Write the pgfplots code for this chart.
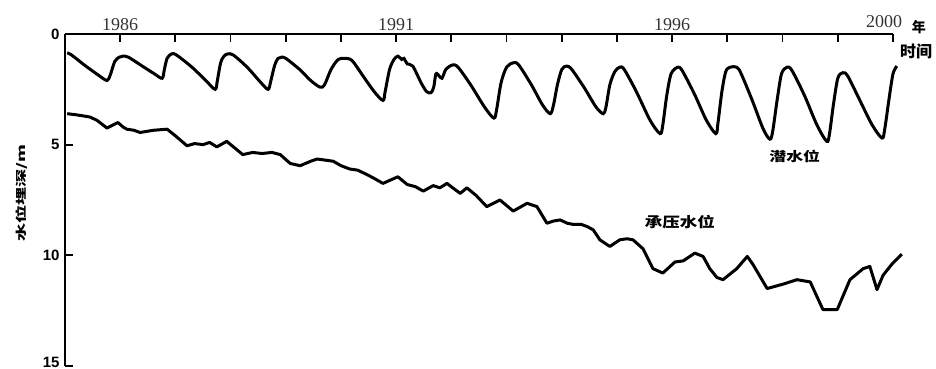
\documentclass[border=0pt]{standalone}
\usepackage{pgfplots}
\pgfplotsset{compat=1.18}
\usepackage{graphicx}
\usepackage{fontspec}
\setmainfont{Liberation Serif}
\newfontfamily\sansf{Liberation Sans}
\newfontfamily\cjk{Noto Sans CJK SC}
\begin{document}
\begin{tikzpicture}
\begin{axis}[
  width=828pt, height=332pt, scale only axis,
  xmin=1985, xmax=2000, ymin=0, ymax=15, y dir=reverse,
  axis x line*=top, axis y line*=left,
  axis line style={line width=2.2pt, black},
  clip=false,
  tick align=inside,
  major tick length=8pt,
  tick style={line width=1.8pt, black},
  xtick={1986,1987,...,2000},
  xticklabels={1986,,,,,1991,,,,,1996,,,,},
  xticklabel style={font=\fontsize{18}{20}\selectfont, text=black!80},
  ytick={0,5,10,15},
  yticklabels={0,5,10,\raisebox{7pt}{15}},
  yticklabel style={font=\sansf\bfseries\fontsize{15}{17}\selectfont, xshift=-2pt},
  /pgf/number format/assume math mode=true,
]
\addplot[smooth, tension=0.5, line width=3pt, black] coordinates {
(1985.04,0.85) (1985.12,0.95) (1985.35,1.4) (1985.6,1.85) (1985.76,2.1) (1985.82,1.85) (1985.9,1.25) (1985.98,1.05) (1986.05,1.0)
(1986.15,1.05) (1986.4,1.45) (1986.62,1.8) (1986.76,2.0) (1986.8,1.6) (1986.85,1.1) (1986.93,0.9)
(1987.02,0.95) (1987.3,1.5) (1987.55,2.1) (1987.72,2.5) (1987.76,2.1) (1987.82,1.3) (1987.88,1.0) (1987.95,0.9)
(1988.05,0.95) (1988.3,1.5) (1988.55,2.2) (1988.68,2.5) (1988.73,2.1) (1988.8,1.4) (1988.86,1.1) (1988.92,1.05)
(1989.0,1.1) (1989.25,1.6) (1989.45,2.1) (1989.62,2.4) (1989.7,2.3) (1989.82,1.6) (1989.95,1.15) (1990.07,1.1)
(1990.2,1.2) (1990.4,1.9) (1990.6,2.6) (1990.76,3.0) (1990.8,2.6) (1990.88,1.6) (1990.96,1.15) (1991.03,1.0)
(1991.1,1.15) (1991.14,1.1) (1991.2,1.35) (1991.3,1.45) (1991.45,2.2) (1991.55,2.6) (1991.63,2.65) (1991.68,2.4) (1991.72,1.8) (1991.78,1.9) (1991.83,2.0) (1991.9,1.6) (1992.02,1.4)
(1992.12,1.5) (1992.35,2.3) (1992.6,3.3) (1992.77,3.8) (1992.82,3.4) (1992.9,2.2) (1993.0,1.5) (1993.12,1.3)
(1993.22,1.4) (1993.45,2.3) (1993.65,3.2) (1993.79,3.6) (1993.85,3.2) (1993.92,2.3) (1994.0,1.6) (1994.09,1.45)
(1994.18,1.6) (1994.4,2.4) (1994.62,3.3) (1994.75,3.6) (1994.8,3.3) (1994.87,2.3) (1994.96,1.7) (1995.05,1.5)
(1995.13,1.6) (1995.35,2.6) (1995.6,3.9) (1995.78,4.5) (1995.83,4.1) (1995.9,2.8) (1995.98,1.8) (1996.1,1.5)
(1996.18,1.65) (1996.4,2.7) (1996.62,3.9) (1996.79,4.5) (1996.83,4.0) (1996.9,2.6) (1996.97,1.7) (1997.05,1.5) (1997.17,1.5)
(1997.25,1.8) (1997.45,3.0) (1997.65,4.3) (1997.77,4.75) (1997.82,4.4) (1997.9,3.0) (1997.98,1.8) (1998.08,1.5)
(1998.17,1.65) (1998.4,2.8) (1998.62,4.1) (1998.8,4.85) (1998.85,4.5) (1998.92,3.2) (1999.0,2.0) (1999.09,1.75)
(1999.18,1.9) (1999.4,3.0) (1999.62,4.1) (1999.8,4.7) (1999.85,4.3) (1999.93,2.9) (2000.0,1.8) (2000.07,1.45)
};
\addplot[line width=3pt, black, line join=round] coordinates {
(1985.04,3.6) (1985.2,3.65) (1985.33,3.7) (1985.45,3.75) (1985.58,3.9) (1985.76,4.25) (1985.96,4.0) (1986.05,4.2) (1986.12,4.3) (1986.25,4.35) (1986.36,4.45) (1986.6,4.35) (1986.85,4.3)
(1987.0,4.6) (1987.21,5.05) (1987.35,4.95) (1987.5,5.0) (1987.62,4.9) (1987.75,5.1) (1987.93,4.85) (1988.1,5.2) (1988.22,5.45) (1988.4,5.35) (1988.57,5.4) (1988.75,5.35) (1988.9,5.45) (1989.08,5.85) (1989.26,5.95)
(1989.45,5.75) (1989.57,5.65) (1989.72,5.7) (1989.86,5.75) (1990.0,5.95) (1990.16,6.1) (1990.3,6.15) (1990.47,6.35) (1990.62,6.55) (1990.76,6.75) (1991.03,6.45) (1991.2,6.8) (1991.35,6.9) (1991.49,7.1) (1991.67,6.85)
(1991.79,6.95) (1991.92,6.75) (1992.05,7.0) (1992.16,7.2) (1992.28,6.95) (1992.45,7.3) (1992.64,7.8) (1992.88,7.5) (1993.12,8.0) (1993.37,7.65) (1993.55,7.8)
(1993.73,8.55) (1993.85,8.45) (1993.97,8.4) (1994.1,8.55) (1994.2,8.6) (1994.35,8.6) (1994.46,8.7) (1994.57,8.85) (1994.69,9.3) (1994.87,9.6) (1995.05,9.3) (1995.18,9.25) (1995.29,9.3)
(1995.47,9.7) (1995.65,10.6) (1995.83,10.8) (1996.05,10.3) (1996.2,10.25) (1996.41,9.9) (1996.56,10.05) (1996.68,10.6) (1996.81,11.0)
(1996.92,11.1) (1997.17,10.6) (1997.36,10.05) (1997.46,10.4) (1997.72,11.5) (1998.01,11.3) (1998.26,11.1) (1998.5,11.2) (1998.73,12.45)
(1998.99,12.45) (1999.22,11.1) (1999.46,10.6) (1999.58,10.5) (1999.71,11.55) (1999.82,10.9) (1999.98,10.4) (2000.16,9.95)
};
\node[font=\cjk\bfseries\fontsize{13}{15}\selectfont] at (axis cs:1998.22,5.51) {\scalebox{1.3}[1]{潜水位}};
\node[font=\cjk\bfseries\fontsize{14}{16}\selectfont] at (axis cs:1996.14,8.5) {\scalebox{1.25}[1]{承压水位}};
\node[font=\fontsize{18}{20}\selectfont, text=black!80, anchor=south, inner sep=0pt] at ([xshift=-9pt,yshift=6pt]axis cs:2000,0) {2000};
\node[font=\cjk\bfseries\fontsize{14}{16}\selectfont] at (axis cs:2000.47,-0.32) {年};
\node[font=\cjk\bfseries\fontsize{16}{18}\selectfont] at (axis cs:2000.42,0.81) {时间};
\node[font=\cjk\bfseries\fontsize{11}{13}\selectfont, rotate=90] at ([xshift=-43pt]axis cs:1985,7.18) {\scalebox{1.65}[1]{水位埋深/m}};
\coordinate (bl) at (axis cs:1985,15);
\coordinate (tr) at (axis cs:2000,0);
\end{axis}
\pgfresetboundingbox
\path ([xshift=-65pt,yshift=-3pt]bl) rectangle ([xshift=43pt,yshift=34pt]tr);
\end{tikzpicture}
\end{document}
